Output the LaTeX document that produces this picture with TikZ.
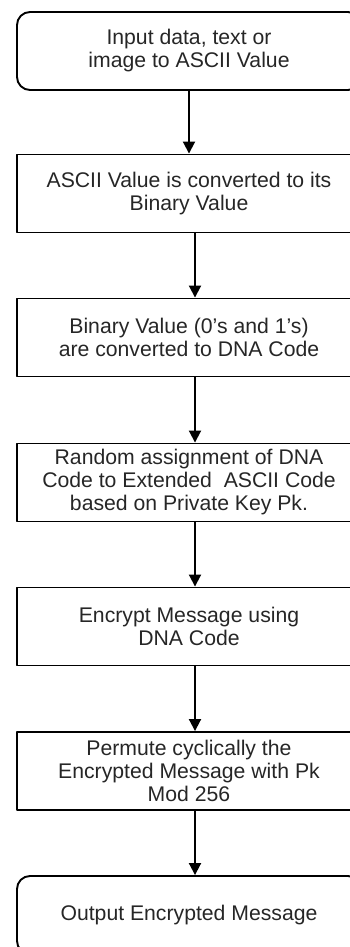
\documentclass[tikz,border=0pt]{standalone}
\usepackage{fontspec}
\setmainfont{Liberation Sans}
\usetikzlibrary{arrows.meta}

\begin{document}
\begin{tikzpicture}[x=1pt,y=-1pt,line join=round]
  % Colors
  \colorlet{boxcolor}{black}
  \colorlet{textcolor}{black!85}

  \tikzset{
    stepbox/.style={draw=boxcolor, line width=1.9pt, minimum width=344pt,
      minimum height=78pt, align=center, text=textcolor,
      font=\fontsize{21.2}{23}\selectfont},
    termbox/.style={stepbox, rounded corners=13pt},
    arr/.style={line width=1.9pt, draw=boxcolor,
      -{Triangle[length=12pt,width=12pt]}}
  }

  \useasboundingbox (0,0) rectangle (350,947);
  \clip (0,0) rectangle (350,947);

  \def\cx{189} % centre of the boxes

  \foreach \name/\y/\sty/\txt in {
      inp/51/termbox/{Input data, text or\\image to ASCII Value},
      bin/193.5/stepbox/{ASCII Value is converted to its\\Binary Value},
      dna/337.5/stepbox/{Binary Value (0’s and 1’s)\\are converted to DNA Code},
      key/482.5/stepbox/{Random assignment of DNA\\Code to Extended\ \ ASCII Code\\based on Private Key Pk.},
      enc/626.5/stepbox/{Encrypt Message using\\DNA Code},
      perm/771/stepbox/{Permute cyclically the\\Encrypted Message with Pk\\Mod 256},
      out/915/termbox/{Output Encrypted Message}}
  {
    \node[\sty] (\name) at (\cx,\y) {\txt};
  }

  \foreach \a/\b/\dx in {inp/bin/0, bin/dna/6, dna/key/6, key/enc/6, enc/perm/6, perm/out/6}
  {
    \draw[arr] ([xshift=\dx pt]\a.south) -- ([xshift=\dx pt]\b.north);
  }
\end{tikzpicture}
\end{document}
